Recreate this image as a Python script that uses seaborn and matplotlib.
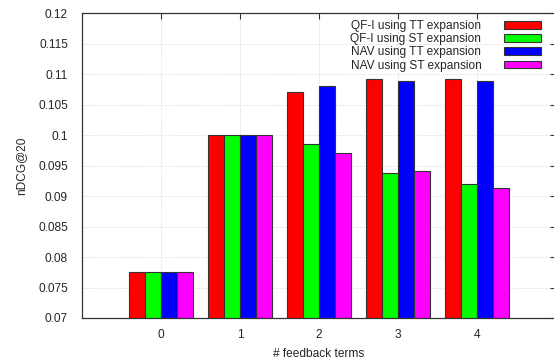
import pandas as pd
import matplotlib
matplotlib.use("Agg")
import matplotlib.pyplot as plt
import seaborn as sns

# values
terms = [0, 1, 2, 3, 4]
series = ["QF-I using TT expansion", "QF-I using ST expansion",
          "NAV using TT expansion", "NAV using ST expansion"]
qfi_tt = [0.0775, 0.1000, 0.1070, 0.1091, 0.1091]
qfi_st = [0.0775, 0.1000, 0.0986, 0.0938, 0.0920]
nav_tt = [0.0775, 0.1000, 0.1080, 0.1089, 0.1089]
nav_st = [0.0775, 0.1000, 0.0970, 0.0941, 0.0913]
colors = ["#ff0000", "#00ff00", "#0000ff", "#ff00ff"]
yticks = [0.07, 0.075, 0.08, 0.085, 0.09, 0.095, 0.1, 0.105, 0.11, 0.115, 0.12]

rows = []
for name, vals in zip(series, [qfi_tt, qfi_st, nav_tt, nav_st]):
    for t, v in zip(terms, vals):
        rows.append({"terms": t, "series": name, "ndcg": v})
df = pd.DataFrame(rows)

sns.set_style("white")
plt.rcParams["font.family"] = ["Liberation Sans", "DejaVu Sans"]
plt.rcParams["font.size"] = 8.6

fig = plt.figure(figsize=(5.54, 3.57), dpi=100)
W, H = 554, 357
ax = fig.add_axes([82 / W, 1 - 318 / H, 474 / W, 305 / H])

sns.barplot(data=df, x="terms", y="ndcg", hue="series", hue_order=series,
            palette=colors, width=0.8, ax=ax, native_scale=True,
            edgecolor="#333333", linewidth=0.8, saturation=1, legend=True)

ax.set_xlim(-1, 5)
ax.set_ylim(0.07, 0.12)
ax.set_xticks(terms)
ax.set_xticklabels([str(t) for t in terms])
ax.set_yticks(yticks)
ax.set_yticklabels([f"{v:g}" for v in yticks])
ax.set_axisbelow(True)
ax.grid(True, color="#d0d0d0", linestyle=(0, (1, 1.5)), linewidth=0.6)
ax.tick_params(direction="in", length=4, width=0.8, color="#333333",
               top=True, right=True, labelsize=8.6)
ax.tick_params(axis="y", pad=10)
ax.tick_params(axis="x", pad=8)
for s in ax.spines.values():
    s.set_color("#333333")
    s.set_linewidth(0.9)

ax.set_xlabel("# feedback terms", fontsize=8.6, labelpad=5)
ax.set_ylabel("nDCG@20", fontsize=8.6, labelpad=8)

handles, labels = ax.get_legend_handles_labels()
ax.legend(handles, labels, loc="upper right", bbox_to_anchor=(541 / W, 1 - 20 / H),
          bbox_transform=fig.transFigure, frameon=False, markerfirst=False,
          borderaxespad=0, borderpad=0, labelspacing=0.1, handlelength=3.1,
          handleheight=0.6, handletextpad=1.9, fontsize=8.6)

fig.savefig("out.png", dpi=100)
